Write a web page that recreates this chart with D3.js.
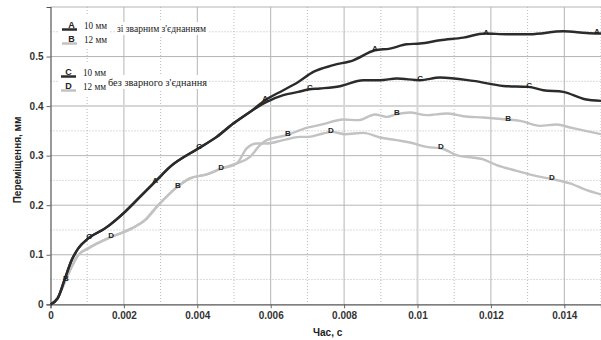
<!DOCTYPE html>
<html><head><meta charset="utf-8">
<script src="https://cdn.jsdelivr.net/npm/d3@7"></script>
<style>body{margin:0;background:#fff}svg{display:block}</style>
</head><body><svg id="c" width="601" height="340"></svg>
<script>
const seriesA = [[0,0],[0.000196,0.0121],[0.000395,0.0524],[0.000578,0.0893],[0.000757,0.1129],[0.00103,0.1331],[0.001485,0.1532],[0.00203,0.1867],[0.002485,0.2204],[0.002894,0.2506],[0.003256,0.2774],[0.004027,0.3145],[0.004529,0.3379],[0.004981,0.3649],[0.005436,0.3883],
 [0.005845,0.4119],[0.006343,0.432],[0.006752,0.4488],[0.007161,0.469],[0.007706,0.4825],[0.008251,0.4925],[0.008842,0.5127],[0.009251,0.5161],[0.009706,0.5248],[0.010068,0.5262],[0.010613,0.5329],[0.011248,0.5383],[0.011839,0.5464],[0.01243,0.545],[0.013065,0.545],[0.013973,0.551],[0.01461,0.5476],[0.015,0.5464]];
const seriesC = [[0,0],[0.000196,0.0121],[0.000395,0.0524],[0.000578,0.0893],[0.000757,0.1129],[0.00103,0.1331],[0.001485,0.1532],[0.00203,0.1867],[0.002485,0.2204],[0.002894,0.2506],[0.003256,0.2774],[0.004027,0.3145],[0.004529,0.3379],[0.004981,0.3649],[0.005436,0.3883],
 [0.005891,0.4085],[0.006343,0.422],[0.006752,0.4286],[0.007025,0.4335],[0.007343,0.4355],[0.007888,0.4401],[0.008523,0.4522],[0.008978,0.4522],[0.009433,0.4556],[0.010068,0.4522],[0.010613,0.4577],[0.01152,0.4508],[0.012338,0.4407],[0.013019,0.4387],[0.013428,0.432],[0.013973,0.4286],[0.014564,0.4139],[0.015,0.4105]];
const seriesB = [[0,0],[0.000213,0.0153],[0.000395,0.0456],[0.000578,0.0758],[0.000757,0.0994],[0.00103,0.1129],[0.001668,0.1363],[0.002213,0.1532],[0.002575,0.17],[0.002937,0.2002],[0.003482,0.2385],[0.003801,0.254],[0.004256,0.2621],[0.004665,0.2742],[0.005074,0.2843],
 [0.005436,0.2976],[0.005708,0.3212],[0.005891,0.3313],[0.006436,0.3413],[0.006798,0.3514],[0.007025,0.3569],[0.007433,0.3635],[0.007978,0.373],[0.008387,0.3716],[0.008842,0.3831],[0.009161,0.3782],[0.009433,0.3837],[0.009796,0.3871],[0.010251,0.3817],[0.010796,0.3851],[0.011248,0.3796],[0.011793,0.377],[0.01243,0.373],[0.012793,0.3702],[0.013338,0.3601],[0.013793,0.3629],[0.014155,0.3569],[0.01461,0.3494],[0.015,0.3433]];
const seriesD = [[0,0],[0.000213,0.0153],[0.000395,0.0456],[0.000578,0.0758],[0.000757,0.0994],[0.00103,0.1129],[0.001668,0.1363],[0.002213,0.1532],[0.002575,0.17],[0.002937,0.2002],[0.003482,0.2385],[0.003801,0.254],[0.004256,0.2621],[0.004665,0.2742],[0.005074,0.2843],
 [0.005346,0.3145],[0.005619,0.3246],[0.005891,0.3246],[0.006343,0.3313],[0.006798,0.3379],[0.007025,0.3379],[0.007433,0.3448],[0.007662,0.348],[0.008025,0.3433],[0.008523,0.346],[0.008978,0.3367],[0.009433,0.3313],[0.009796,0.3266],[0.010251,0.3177],[0.010659,0.3145],[0.011068,0.301],[0.011793,0.2923],[0.012158,0.2808],[0.012703,0.2694],[0.013248,0.2587],[0.0137,0.252],[0.014155,0.244],[0.01461,0.2304],[0.015,0.2218]];

const seriesNames = ["A","B","C","D"];
const seriesSizes = ["10 мм","12 мм","10 мм","12 мм"];
const groupNames = ["зі зварним з'єднанням","без зварного з'єднання"];
const labelTimesA = [0.00285,0.00585,0.00884,0.01187,0.01489];
const labelTimesB = [0.00042,0.00347,0.00647,0.00944,0.01247];
const labelTimesC = [0.00105,0.00405,0.00707,0.01007,0.01304];
const labelTimesD = [0.00165,0.00465,0.00764,0.01064,0.01366];
const xTicks = [0,0.002,0.004,0.006,0.008,0.01,0.012,0.014];
const xTickLabels = ["0","0.002","0.004","0.006","0.008","0.01","0.012","0.014"];
const yTicks = [0,0.1,0.2,0.3,0.4,0.5];
const yTickLabels = ["0","0.1","0.2","0.3","0.4","0.5"];
const xMinor = [0.001,0.003,0.005,0.007,0.009,0.011,0.013,0.015];
const yMinor = [0.05,0.15,0.25,0.35,0.45,0.55];
const xTitle = "Час, с";
const yTitle = "Переміщення, мм";

const SERIF = "'Liberation Serif','DejaVu Serif','Times New Roman',serif";
const SANS = "'Liberation Sans',Arial,sans-serif";
const svg = d3.select("#c");
const L = 50.5, R = 601, T = 7, B = 304.3;
const x = d3.scaleLinear().domain([0,0.015]).range([L,R]);
const y = d3.scaleLinear().domain([0,0.6]).range([B,T]);

const dark = "#2b2b2b", light = "#c2c2c2";
const grid = svg.append("g");
grid.selectAll(".xm").data(xMinor).join("line").attr("x1",d=>x(d)).attr("x2",d=>x(d)).attr("y1",T).attr("y2",B)
  .attr("stroke","#a8a8a8").attr("stroke-width",0.8).attr("stroke-dasharray","1,2");
grid.selectAll(".ym").data(yMinor).join("line").attr("y1",d=>y(d)).attr("y2",d=>y(d)).attr("x1",L).attr("x2",R)
  .attr("stroke","#a8a8a8").attr("stroke-width",0.8).attr("stroke-dasharray","1,2");
grid.selectAll(".xM").data(xTicks.slice(1)).join("line").attr("x1",d=>x(d)).attr("x2",d=>x(d)).attr("y1",T).attr("y2",B)
  .attr("stroke",d=>d===0.01?"#d6d6d6":"#b5b5b5").attr("stroke-width",d=>d===0.01?2:1);
grid.selectAll(".yM").data(yTicks.slice(1).concat([0.6])).join("line").attr("y1",d=>y(d)).attr("y2",d=>y(d)).attr("x1",L).attr("x2",R)
  .attr("stroke",d=>d===0.4?"#d6d6d6":"#b5b5b5").attr("stroke-width",d=>d===0.4?2:1);

const xAxis = d3.axisBottom(x).tickValues(xTicks).tickFormat((d,i)=>xTickLabels[i]).tickSize(4).tickPadding(4);
const yAxis = d3.axisLeft(y).tickValues(yTicks).tickFormat((d,i)=>yTickLabels[i]).tickSize(4).tickPadding(3);
const gx = svg.append("g").attr("transform",`translate(0,${B})`).call(xAxis);
const gy = svg.append("g").attr("transform",`translate(${L},0)`).call(yAxis);
[gx,gy].forEach(g=>{
  g.attr("font-family",SANS).attr("font-size",10);
  g.select(".domain").attr("stroke","#555").attr("stroke-width",1.2);
  g.selectAll(".tick line").attr("stroke","#666");
  g.selectAll("text").style("font-family",SANS).attr("font-size",10).attr("font-weight","bold").attr("fill","#333");
});

svg.append("text").style("font-family",SANS).attr("x",313).attr("y",336).text(xTitle)
  .attr("font-size",10).attr("font-weight","bold").attr("fill","#222");
svg.append("text").style("font-family",SANS).attr("transform","translate(21,160) rotate(-90)").attr("text-anchor","middle").text(yTitle)
  .attr("font-size",10).attr("font-weight","bold").attr("fill","#222");

const leg = svg.append("g");
const legRows = [
  {name:seriesNames[0],size:seriesSizes[0],col:dark,ly:29.5},
  {name:seriesNames[1],size:seriesSizes[1],col:light,ly:43.5},
  {name:seriesNames[2],size:seriesSizes[2],col:dark,ly:76.5},
  {name:seriesNames[3],size:seriesSizes[3],col:light,ly:90.5}
];
leg.append("rect").attr("x",58).attr("y",15).attr("width",52).attr("height",33).attr("fill","#fff");
leg.append("rect").attr("x",58).attr("y",62).attr("width",52).attr("height",33).attr("fill","#fff");
leg.append("rect").attr("x",115).attr("y",22).attr("width",93).attr("height",13).attr("fill","#fff");
leg.append("rect").attr("x",106).attr("y",75).attr("width",103).attr("height",14).attr("fill","#fff");
legRows.forEach((r,i)=>{
  const x0 = i<2?62:61, x1 = i<2?77:76;
  leg.append("line").attr("x1",x0).attr("x2",x1).attr("y1",r.ly).attr("y2",r.ly).attr("stroke",r.col).attr("stroke-width",2.5);
  leg.append("text").style("font-family",SANS).attr("x",(x0+x1)/2+(i<2?2:0)).attr("y",r.ly-1.5).attr("text-anchor","middle").text(r.name)
    .attr("font-size",9).attr("font-weight","bold").attr("fill","#222");
  leg.append("text").style("font-family",SERIF).attr("x",i<2?84:83).attr("y",r.ly-0.5).text(r.size)
    .attr("font-size",11).attr("fill","#222").attr("textLength",23).attr("lengthAdjust","spacingAndGlyphs");
});
leg.append("text").style("font-family",SERIF).attr("x",117).attr("y",32).text(groupNames[0])
  .attr("font-size",11).attr("fill","#222").attr("textLength",89).attr("lengthAdjust","spacingAndGlyphs");
leg.append("text").style("font-family",SERIF).attr("x",108).attr("y",85.5).text(groupNames[1])
  .attr("font-size",11).attr("fill","#222").attr("textLength",99).attr("lengthAdjust","spacingAndGlyphs");

const line = d3.line().x(d=>x(d[0])).y(d=>y(d[1])).curve(d3.curveMonotoneX);
const all = [
  {data:seriesB,col:light,name:"B",lt:labelTimesB},
  {data:seriesD,col:light,name:"D",lt:labelTimesD},
  {data:seriesC,col:dark,name:"C",lt:labelTimesC},
  {data:seriesA,col:dark,name:"A",lt:labelTimesA}
];
all.forEach(s=>{
  svg.append("path").attr("d",line(s.data)).attr("fill","none").attr("stroke",s.col).attr("stroke-width",2.4).attr("stroke-linejoin","round");
});
function valAt(data,t){
  const i = d3.bisector(d=>d[0]).right(data,t);
  const a = data[Math.max(0,i-1)], b = data[Math.min(data.length-1,i)];
  if (b[0]===a[0]) return a[1];
  return a[1]+(b[1]-a[1])*(t-a[0])/(b[0]-a[0]);
}
all.forEach(s=>{
  s.lt.forEach(t=>{
    svg.append("text").style("font-family",SANS).attr("x",x(t)).attr("y",y(valAt(s.data,t))+1).attr("text-anchor","middle").text(s.name)
      .attr("font-size",8).attr("font-weight","bold").attr("fill","#222");
  });
});
</script></body></html>
